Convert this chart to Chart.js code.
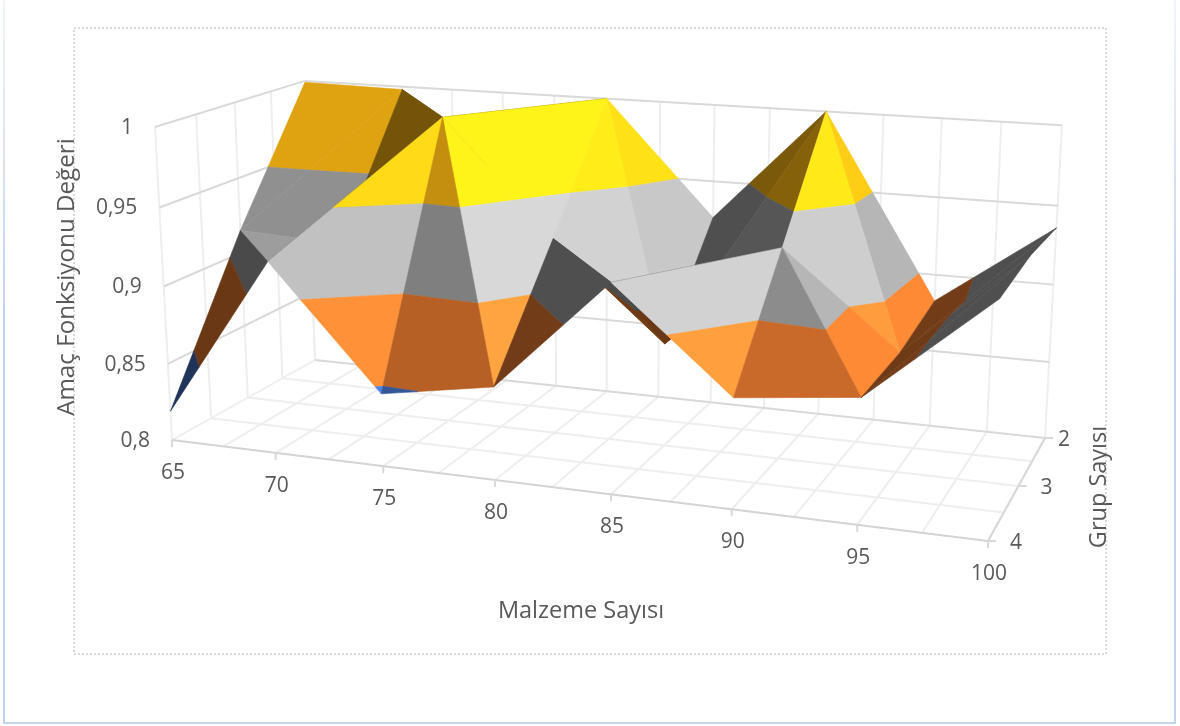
<!DOCTYPE html>
<html>
<head>
<meta charset="utf-8">
<title>Amaç Fonksiyonu Değeri</title>
<script src="https://cdn.jsdelivr.net/npm/chart.js@4"></script>
<style>
html, body { margin: 0; padding: 0; background: #fff; }
canvas { display: block; }
</style>
</head>
<body>
<canvas id="myChart" width="1180" height="726"></canvas>
<script>
var malzemeSayisi = [65, 70, 75, 80, 85, 90, 95, 100];
var grupSayisi = [2, 3, 4];
var grup2 = [0.999, 0.998, 0.94, 1.0, 0.926, 1.0, 0.883, 0.936];
var grup3 = [0.915, 0.912, 0.999, 0.927, 0.866, 0.933, 0.875, 0.94];
var grup4 = [0.819, 0.922, 0.846, 0.858, 0.928, 0.867, 0.875, 0.938];
var degerTicks = [0.8, 0.85, 0.9, 0.95, 1];
var degerLabels = ['0,8', '0,85', '0,9', '0,95', '1'];

// colour of each value band, lowest first
var bandColors = [[68, 114, 196], [237, 125, 49], [165, 165, 165], [255, 186, 20]];

// how each cell is split: 'a' = near left to far right, 'b' = far left to near right
var splitFront = ['b', 'a', 'b', 'b', 'a', 'b', 'a'];
var splitBack = ['a', 'b', 'a', 'b', 'a', 'b', 'a'];
// brightness of the two triangles of each cell
var shadeFront = [[0.45, 0.95], [1.17, 0.45], [0.77, 1.31], [0.48, 0.46], [1.27, 0.45], [0.85, 1.1], [0.48, 0.47]];
var shadeBack = [[0.875, 0.875], [0.45, 0.45], [1.31, 0.45], [1.27, 1.21], [0.52, 0.48], [1.25, 1.1], [0.48, 0.48]];

// view of the 3D box: where its corners land on the canvas
var floorBox = [[172, 440], [988, 541], [1045, 438], [315, 360]];
var topFrontLeft = [155, 127];
var topBackRight = [1062, 125];

var view = (function () {
    var p = floorBox;
    var dx1 = p[1][0] - p[2][0], dx2 = p[3][0] - p[2][0], sx = p[0][0] - p[1][0] + p[2][0] - p[3][0];
    var dy1 = p[1][1] - p[2][1], dy2 = p[3][1] - p[2][1], sy = p[0][1] - p[1][1] + p[2][1] - p[3][1];
    var det = dx1 * dy2 - dx2 * dy1;
    var g = (sx * dy2 - dx2 * sy) / det;
    var h = (dx1 * sy - sx * dy1) / det;
    var v = {
        a: p[1][0] - p[0][0] + g * p[1][0], b: p[3][0] - p[0][0] + h * p[3][0], c: p[0][0],
        d: p[1][1] - p[0][1] + g * p[1][1], e: p[3][1] - p[0][1] + h * p[3][1], f: p[0][1],
        g: g, h: h
    };
    // height column of the projection
    var k = (v.a + v.b - topBackRight[0] * (g + h)) / (topBackRight[0] - topFrontLeft[0]);
    v.zw = k - 1;
    v.zx = topFrontLeft[0] * k - v.c;
    v.zy = topFrontLeft[1] * k - v.f;
    return v;
})();

function project(mat, grp, val) {
    var u = (mat - 65) / 35, w = (4 - grp) / 2, z = (val - 0.8) / 0.2;
    var q = view.g * u + view.h * w + view.zw * z + 1;
    return {
        x: (view.a * u + view.b * w + view.zx * z + view.c) / q,
        y: (view.d * u + view.e * w + view.zy * z + view.f) / q,
        depth: q
    };
}

// part of a triangle that lies inside one value band
function clipBand(tri, lo, hi) {
    function clip(poly, limit, keepAbove) {
        var out = [];
        for (var i = 0; i < poly.length; i++) {
            var a = poly[i], b = poly[(i + 1) % poly.length];
            var ina = keepAbove ? a[2] >= limit : a[2] <= limit;
            var inb = keepAbove ? b[2] >= limit : b[2] <= limit;
            if (ina) out.push(a);
            if (ina !== inb) {
                var t = (limit - a[2]) / (b[2] - a[2]);
                out.push([a[0] + (b[0] - a[0]) * t, a[1] + (b[1] - a[1]) * t, limit]);
            }
        }
        return out;
    }
    return clip(clip(tri, lo, true), hi, false);
}

function cellTriangles(nearRow, farRow, nearGrp, farGrp, split, shade) {
    var list = [];
    for (var i = 0; i < malzemeSayisi.length - 1; i++) {
        var n0 = [malzemeSayisi[i], nearGrp, nearRow[i]], n1 = [malzemeSayisi[i + 1], nearGrp, nearRow[i + 1]];
        var f0 = [malzemeSayisi[i], farGrp, farRow[i]], f1 = [malzemeSayisi[i + 1], farGrp, farRow[i + 1]];
        var pair = split[i] === 'a' ? [[n0, n1, f1], [n0, f1, f0]] : [[n0, n1, f0], [f0, n1, f1]];
        list.push({ pts: pair[0], shade: shade[i][0] });
        list.push({ pts: pair[1], shade: shade[i][1] });
    }
    return list;
}

function shaded(rgb, s) {
    return 'rgb(' + rgb.map(function (c) { return Math.min(255, Math.round(c * s)); }).join(',') + ')';
}

var triangles = cellTriangles(grup3, grup2, 3, 2, splitBack, shadeBack)
    .concat(cellTriangles(grup4, grup3, 4, 3, splitFront, shadeFront));

// far triangles go last, Chart.js paints the last dataset first
triangles.forEach(function (t) {
    t.depth = t.pts.reduce(function (s, p) { return s + project(p[0], p[1], p[2]).depth; }, 0) / 3;
});
triangles.sort(function (a, b) { return a.depth - b.depth; });

var datasets = [];
triangles.forEach(function (t) {
    for (var b = 0; b < bandColors.length; b++) {
        var poly = clipBand(t.pts, degerTicks[b], degerTicks[b + 1]);
        if (poly.length < 3) continue;
        var color = shaded(bandColors[b], t.shade);
        var pts = poly.map(function (p) { return project(p[0], p[1], p[2]); });
        pts.push(pts[0]);
        datasets.push({
            data: pts.map(function (p) { return { x: p.x, y: p.y }; }),
            showLine: true, fill: 'shape', backgroundColor: color,
            borderColor: color, borderWidth: 0.6, pointRadius: 0, tension: 0
        });
    }
});

function gridLine(a, b, color, width) {
    var p = project(a[0], a[1], a[2]), q = project(b[0], b[1], b[2]);
    datasets.push({
        data: [{ x: p.x, y: p.y }, { x: q.x, y: q.y }],
        showLine: true, fill: false, borderColor: color, borderWidth: width, pointRadius: 0
    });
}

var lineDark = '#d9d9d9', lineSoft = '#eeeeee';
var matFirst = malzemeSayisi[0], matLast = malzemeSayisi[malzemeSayisi.length - 1];

// axis lines first so they stay on top of the soft grid
gridLine([matFirst, 4, 0.8], [matLast, 4, 0.8], '#d4d4d4', 2.2);
gridLine([matLast, 4, 0.8], [matLast, 2, 0.8], lineDark, 2.2);
degerTicks.forEach(function (d) {
    gridLine([matFirst, 4, d], [matFirst, 2, d], d === 0.8 ? lineSoft : lineDark, 2);
    gridLine([matFirst, 2, d], [matLast, 2, d], lineDark, 2);
});
for (var m = matFirst; m <= matLast; m += 2.5) {
    gridLine([m, 2, 0.8], [m, 2, 1], lineSoft, 2);
    if (m > matFirst) gridLine([m, 4, 0.8], [m, 2, 0.8], lineSoft, 2);
}
for (var g = 2; g <= 4; g += 0.5) {
    gridLine([matFirst, g, 0.8], [matFirst, g, 1], lineSoft, 2);
    if (g < 4 && g > 2) gridLine([matFirst, g, 0.8], [matLast, g, 0.8], lineSoft, 2);
}

var textColor = '#595959';
var textFont = '"Open Sans", sans-serif';

var chartText = {
    id: 'chartText',
    beforeDatasetsDraw: function (chart) {
        var ctx = chart.ctx;
        ctx.save();
        // page frame, fading out towards the top, and dotted chart border
        var frame = ctx.createLinearGradient(0, 0, 0, 300);
        frame.addColorStop(0, '#f1f4fb');
        frame.addColorStop(1, '#c5d3ee');
        ctx.strokeStyle = frame;
        ctx.lineWidth = 2;
        ctx.beginPath();
        ctx.moveTo(4, 0); ctx.lineTo(4, 723); ctx.lineTo(1175, 723); ctx.lineTo(1175, 0);
        ctx.stroke();
        ctx.strokeStyle = '#d9d9d9';
        ctx.setLineDash([2, 2]);
        ctx.strokeRect(74, 28, 1032, 626);
        ctx.setLineDash([]);
        ctx.restore();
    },
    afterDatasetsDraw: function (chart) {
        var ctx = chart.ctx;
        ctx.save();
        ctx.fillStyle = textColor;
        ctx.font = '21px ' + textFont;
        ctx.textBaseline = 'middle';

        ctx.textAlign = 'right';
        degerTicks.forEach(function (d, i) {
            var p = project(matFirst, 4, d);
            ctx.fillText(degerLabels[i], p.x - 22, p.y + 1);
        });

        ctx.textAlign = 'center';
        ctx.strokeStyle = '#d9d9d9';
        ctx.lineWidth = 2;
        malzemeSayisi.forEach(function (m) {
            var p = project(m, 4, 0.8);
            ctx.beginPath(); ctx.moveTo(p.x, p.y); ctx.lineTo(p.x, p.y + 7); ctx.stroke();
            ctx.fillText(String(m), p.x + 1, p.y + 33);
        });
        var grupOffset = [19, 28, 28];
        grupSayisi.forEach(function (g, i) {
            var p = project(matLast, g, 0.8);
            ctx.beginPath(); ctx.moveTo(p.x, p.y); ctx.lineTo(p.x + 8, p.y); ctx.stroke();
            ctx.fillText(String(g), p.x + grupOffset[i], p.y + 2);
        });

        ctx.font = '23.5px ' + textFont;
        ctx.fillText('Malzeme Sayısı', 581, 611);
        ctx.save();
        ctx.translate(67, 277);
        ctx.rotate(-Math.PI / 2);
        ctx.font = '24.2px ' + textFont;
        ctx.fillText('Amaç Fonksiyonu Değeri', 0, 0);
        ctx.restore();
        ctx.translate(1099, 487);
        ctx.rotate(-Math.PI / 2);
        ctx.fillText('Grup Sayısı', 0, 0);
        ctx.restore();
    }
};

var myChart = new Chart(document.getElementById('myChart'), {
    type: 'scatter',
    data: { datasets: datasets },
    options: {
        responsive: false,
        animation: false,
        events: [],
        layout: { padding: 0 },
        plugins: { legend: { display: false }, tooltip: { enabled: false }, filler: { propagate: false } },
        scales: {
            x: { type: 'linear', min: 0, max: 1180, display: false },
            y: { type: 'linear', min: 0, max: 726, reverse: true, display: false }
        }
    },
    plugins: [chartText]
});
</script>
</body>
</html>
